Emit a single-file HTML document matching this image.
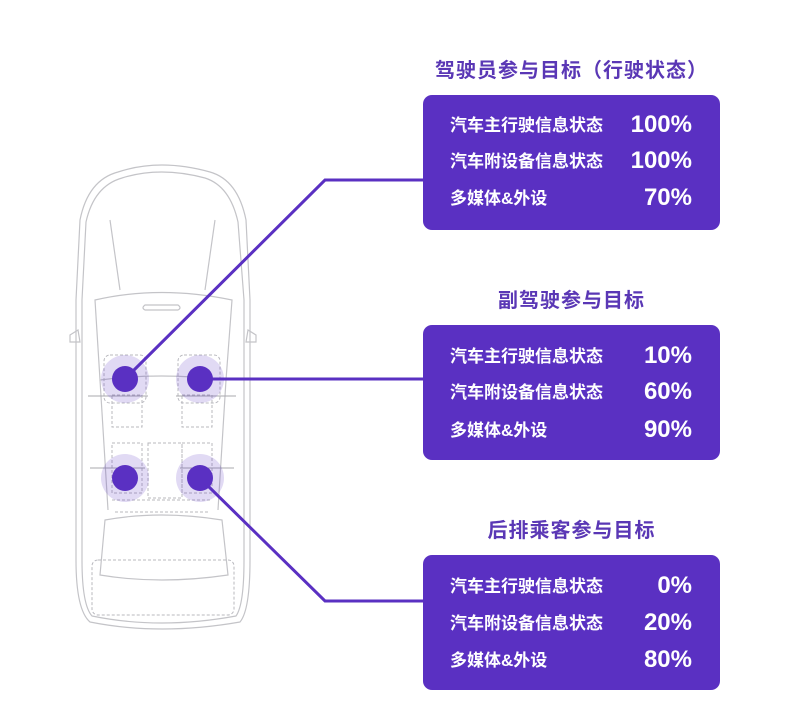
<!DOCTYPE html>
<html><head><meta charset="utf-8"><style>
body{margin:0;background:#fff;}
.wrap{position:relative;width:800px;height:703px;overflow:hidden;background:#fff;font-family:"Liberation Sans","Noto Sans CJK SC",sans-serif;}
.t{position:absolute;left:413px;width:317px;text-align:center;color:#5a37b5;font-weight:bold;font-size:20px;letter-spacing:1px;line-height:26px;}
.box{position:absolute;left:423px;width:297px;height:135px;background:#5a30c2;border-radius:9px;}
.r{position:absolute;left:27px;width:242px;color:#fff;height:30px;}
.r .l{position:absolute;left:0;top:6px;font-size:17px;font-weight:bold;line-height:20px;}
.r .v{position:absolute;right:0;top:1px;font-size:24px;font-weight:bold;line-height:28px;}
</style></head><body><div class="wrap">
<svg width="800" height="703" style="position:absolute;left:0;top:0">
<g fill="none" stroke="#c4c4c8" stroke-width="1.2">
<path d="M118 172 Q160 158 210 172 Q238 180 246 220 L250 300 L250 560 Q250 610 240 622 Q160 636 90 622 Q76 610 76 560 L76 300 L80 220 Q88 180 118 172Z"/>
<path d="M122 178 Q160 166 205 178 Q230 186 238 222 L244 300 L244 560 Q244 605 236 616 Q160 630 92 616 Q82 605 82 560 L82 300 L86 222 Q94 186 122 178Z"/>
<path d="M95 300 Q160 285 232 300 L226 380 Q160 372 100 380Z"/>
<path d="M110 220 L120 290 M215 220 L205 290"/>
<path d="M145 305 L178 305 Q182 308 178 310 L145 310 Q141 308 145 305Z"/>
<path d="M100 380 L108 510 M226 380 L218 510"/>
<path d="M105 520 Q160 510 222 520 L228 575 Q160 585 100 575Z"/>
<path d="M70 335 L78 330 L80 342 L70 342Z M256 335 L248 330 L246 342 L256 342Z"/>
</g>
<g fill="none" stroke="#b8b8be" stroke-width="1" stroke-dasharray="3 2">
<rect x="104" y="355" width="42" height="48" rx="6"/><rect x="178" y="355" width="42" height="48" rx="6"/>
<rect x="112" y="395" width="30" height="32"/><rect x="182" y="395" width="30" height="32"/>
<rect x="112" y="443" width="30" height="50"/><rect x="148" y="443" width="34" height="55"/><rect x="182" y="443" width="30" height="50"/>
<path d="M112 500 L212 500 M115 512 L210 512"/>
<rect x="92" y="560" width="142" height="55" rx="6"/>
</g>
<g fill="none" stroke="#a8a8ae" stroke-width="1">
<path d="M88 396 L148 396 M176 396 L236 396 M90 468 L145 468 M180 468 L234 468"/>
</g>
<g fill="#5a30c2">
<circle cx="125" cy="379" r="24" fill-opacity="0.18"/><circle cx="200" cy="379" r="24" fill-opacity="0.18"/>
<circle cx="125" cy="478" r="24" fill-opacity="0.18"/><circle cx="200" cy="478" r="24" fill-opacity="0.18"/>
<circle cx="125" cy="379" r="13"/><circle cx="200" cy="379" r="13"/>
<circle cx="125" cy="478" r="13"/><circle cx="200" cy="478" r="13"/>
</g>
<g fill="none" stroke="#5a30c2" stroke-width="3">
<path d="M130 374 L325 180 L424 180"/>
<path d="M210 379 L424 379"/>
<path d="M205 483 L325 601 L424 601"/>
</g>
</svg>
<div class="t" style="top:58px">驾驶员参与目标（行驶状态）</div>
<div class="box" style="top:95px">
<div class="r" style="top:15px"><span class="l">汽车主行驶信息状态</span><span class="v">100%</span></div>
<div class="r" style="top:51px"><span class="l">汽车附设备信息状态</span><span class="v">100%</span></div>
<div class="r" style="top:88px"><span class="l">多媒体&amp;外设</span><span class="v">70%</span></div>
</div>
<div class="t" style="top:288px">副驾驶参与目标</div>
<div class="box" style="top:325px">
<div class="r" style="top:16px"><span class="l">汽车主行驶信息状态</span><span class="v">10%</span></div>
<div class="r" style="top:52px"><span class="l">汽车附设备信息状态</span><span class="v">60%</span></div>
<div class="r" style="top:90px"><span class="l">多媒体&amp;外设</span><span class="v">90%</span></div>
</div>
<div class="t" style="top:518px">后排乘客参与目标</div>
<div class="box" style="top:555px">
<div class="r" style="top:16px"><span class="l">汽车主行驶信息状态</span><span class="v">0%</span></div>
<div class="r" style="top:53px"><span class="l">汽车附设备信息状态</span><span class="v">20%</span></div>
<div class="r" style="top:90px"><span class="l">多媒体&amp;外设</span><span class="v">80%</span></div>
</div>
</div></body></html>
